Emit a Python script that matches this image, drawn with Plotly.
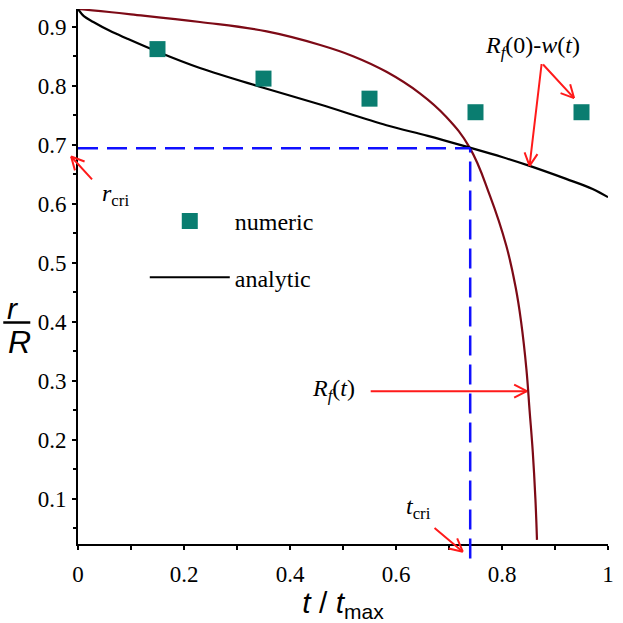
import math
import plotly.graph_objects as go

# numeric solution (squares)
t_num = [0.15, 0.35, 0.55, 0.75, 0.95]
r_num = [0.862, 0.812, 0.778, 0.755, 0.755]

# analytic R_f(0) - w(t)  (black line)
t_ana = [0.0, 0.011, 0.029, 0.060, 0.092, 0.149, 0.230, 0.348, 0.457, 0.582, 0.660, 0.739, 0.800, 0.852, 0.921, 0.971, 1.0]
r_ana = [0.930, 0.918, 0.908, 0.893, 0.880, 0.858, 0.830, 0.797, 0.768, 0.733, 0.715, 0.695, 0.679, 0.664, 0.642, 0.625, 0.611]

# front radius R_f(t)  (dark red line)
t_rf = [0.0, 0.10, 0.23, 0.356, 0.457, 0.519, 0.582, 0.645, 0.695, 0.739, 0.777, 0.808, 0.826,
        0.836, 0.846, 0.852, 0.858, 0.863, 0.866]
r_rf = [0.930, 0.921, 0.908, 0.892, 0.869, 0.850, 0.8235, 0.787, 0.747, 0.695, 0.614, 0.529, 0.457,
        0.400, 0.320, 0.250, 0.180, 0.100, 0.030]

# critical point
t_cri = 0.740
r_cri = 0.694

x_range = [0, 1]
y_range = [0.023, 0.93]
W = H = 623
ml, mr, mt, mb = 78, 14, 9, 75

serif = "Liberation Serif"
sans = "Liberation Sans"
red = "#ff1a1a"
blue = "#1010ff"

fig = go.Figure()

fig.add_trace(go.Scatter(x=t_rf, y=r_rf, mode="lines", line=dict(color="#7d0a16", width=2.2, shape="spline", smoothing=1.2),
                         showlegend=False, hoverinfo="skip"))
fig.add_trace(go.Scatter(x=t_ana, y=r_ana, mode="lines", name="analytic", legendgroup="b", legendrank=2,
                         line=dict(color="black", width=2.2, shape="spline", smoothing=1)))
fig.add_trace(go.Scatter(x=t_num, y=r_num, mode="markers", name="numeric", legendgroup="a", legendrank=1,
                         marker=dict(symbol="square", size=16, color="#0a7d70")))

# pixel scale of the data axes
px_x = (W - ml - mr) / (x_range[1] - x_range[0])
px_y = (H - mt - mb) / (y_range[1] - y_range[0])


def to_paper(x, y):
    return ((x - x_range[0]) / (x_range[1] - x_range[0]),
            (y - y_range[0]) / (y_range[1] - y_range[0]))


# critical dashed lines
cx, cy = to_paper(t_cri, r_cri)
fig.add_shape(type="line", xref="x", yref="y", x0=0, x1=t_cri, y0=r_cri, y1=r_cri,
              line=dict(color=blue, width=2.5, dash="20px,9px"))
fig.add_shape(type="line", xref="x", yref="paper", x0=t_cri, x1=t_cri, y0=-0.027, y1=cy,
              line=dict(color=blue, width=2.5, dash="20px,9px"))


def arrow(tail, head, barb=16, ang=27):
    hx, hy = to_paper(*head)
    dx = (tail[0] - head[0]) * px_x
    dy = -(tail[1] - head[1]) * px_y
    # shaft
    fig.add_annotation(x=hx, y=hy, ax=dx, ay=dy, xref="paper", yref="paper",
                       text="", showarrow=True, arrowhead=0, arrowwidth=2, arrowcolor=red,
                       standoff=0, startstandoff=0)
    # open V head
    d = math.hypot(dx, dy)
    ux, uy = dx / d, dy / d
    for s in (-1, 1):
        a = math.radians(ang) * s
        bx = ux * math.cos(a) - uy * math.sin(a)
        by = ux * math.sin(a) + uy * math.cos(a)
        fig.add_annotation(x=hx, y=hy, ax=bx * barb, ay=by * barb, xref="paper", yref="paper",
                           text="", showarrow=True, arrowhead=0, arrowwidth=2, arrowcolor=red,
                           standoff=0, startstandoff=0)


txt = dict(family=serif, size=24, color="black")
fig.add_annotation(x=0.858, y=0.866, xref="x", yref="y", showarrow=False,
                   text="<i>R<sub>f</sub></i>(0)-<i>w</i>(<i>t</i>)", font=txt)
arrow((0.875, 0.838), (0.936, 0.779))
arrow((0.875, 0.838), (0.852, 0.664))

fig.add_annotation(x=0.483, y=0.284, xref="x", yref="y", showarrow=False,
                   text="<i>R<sub>f</sub></i>(<i>t</i>)", font=txt)
arrow((0.550, 0.282), (0.847, 0.282))

fig.add_annotation(x=0.642, y=0.084, xref="x", yref="y", showarrow=False,
                   text="<i>t</i><sub>cri</sub>", font=txt)
arrow((0.670, 0.052), (0.726, 0.010))

fig.add_annotation(x=0.070, y=0.614, xref="x", yref="y", showarrow=False,
                   text="<i>r</i><sub>cri</sub>", font=txt)
arrow((0.029, 0.639), (-0.013, 0.680))

# y axis title as a fraction r / R
fig.add_annotation(x=-0.138, y=0.440, xref="paper", yref="paper", showarrow=False,
                   text="<i>r</i>", font=dict(family=sans, size=30, color="black"))
fig.add_annotation(x=-0.135, y=0.378, xref="paper", yref="paper", showarrow=False,
                   text="<i>R</i>", font=dict(family=sans, size=32, color="black"))
fig.add_shape(type="line", xref="paper", yref="paper", x0=-0.141, x1=-0.090, y0=0.414, y1=0.414,
              line=dict(color="black", width=2.5))

axis = dict(showline=True, linecolor="black", linewidth=2, showgrid=False, zeroline=False,
            ticks="outside", ticklen=4, tickwidth=1.5, tickcolor="black")
tickfont = dict(family=serif, size=23, color="black")

fig.update_xaxes(range=x_range, dtick=0.2, tick0=0, ticklabelstandoff=4, tickfont=tickfont,
                 minor=dict(dtick=0.1, ticks="outside", ticklen=4, tickcolor="black"),
                 title=dict(text="<i>t</i> / <i>t</i><sub>max</sub>", font=dict(family=sans, size=30, color="black"),
                            standoff=6), **axis)
fig.update_yaxes(range=y_range, dtick=0.1, tick0=0, ticklabelstandoff=1, tickfont=tickfont,
                 minor=dict(dtick=0.05, ticks="outside", ticklen=3, tickcolor="black"), **axis)

fig.update_layout(
    width=W, height=H,
    margin=dict(l=ml, r=mr, t=mt, b=mb),
    font=dict(family=serif, color="black"),
    plot_bgcolor="white", paper_bgcolor="white",
    legend=dict(x=0.126, y=0.645, xanchor="left", yanchor="top", bgcolor="rgba(0,0,0,0)",
                font=dict(family=serif, size=24, color="black"), tracegroupgap=22, itemwidth=80),
)

fig.write_html("out.html", config={"displayModeBar": False},
               post_script="document.body.style.margin='0';")
